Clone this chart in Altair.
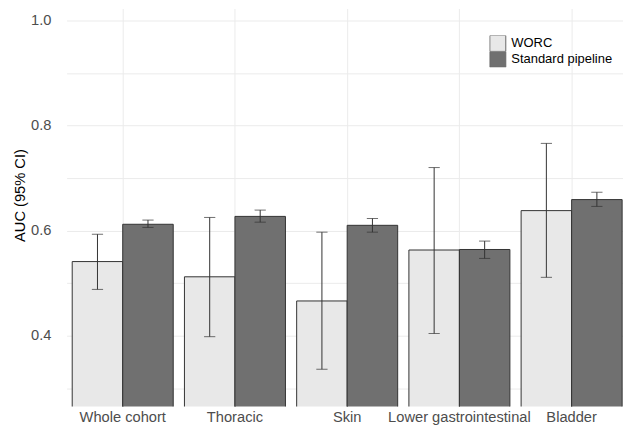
import altair as alt
import pandas as pd

categories = ["Whole cohort", "Thoracic", "Skin", "Lower gastrointestinal", "Bladder"]
methods = ["WORC", "Standard pipeline"]

worc_auc = [0.541, 0.512, 0.466, 0.563, 0.638]
worc_lo = [0.488, 0.398, 0.336, 0.404, 0.511]
worc_hi = [0.593, 0.625, 0.597, 0.720, 0.766]

std_auc = [0.612, 0.627, 0.610, 0.564, 0.659]
std_lo = [0.606, 0.616, 0.597, 0.547, 0.646]
std_hi = [0.620, 0.639, 0.623, 0.580, 0.673]

rows = []
for i, c in enumerate(categories):
    rows.append({"cat": c, "method": "WORC", "auc": worc_auc[i], "lo": worc_lo[i], "hi": worc_hi[i]})
    rows.append({"cat": c, "method": "Standard pipeline", "auc": std_auc[i], "lo": std_lo[i], "hi": std_hi[i]})
df = pd.DataFrame(rows)

FONT = "Liberation Sans"

xscale = alt.Scale(domain=categories, range=[11.75, 574.25], paddingInner=0.1, paddingOuter=0.05)
yscale = alt.Scale(domain=[0.265, 1.0228], nice=False, zero=False)
offscale = alt.Scale(domain=methods, paddingInner=0, paddingOuter=0)

x_enc = alt.X("cat:N", scale=xscale, sort=categories, title=None,
              axis=alt.Axis(labelAngle=0, ticks=False, domain=False, labelPadding=3,
                            labelFontSize=14.7, labelColor="#4D4D4D", labelFont=FONT,
                            grid=True, gridColor="#EBEBEB", gridWidth=1))
xoff = alt.XOffset("method:N", scale=offscale, sort=methods)

base = alt.Chart(df)

bars = base.mark_bar(stroke="#333333", strokeWidth=1, clip=True).encode(
    x=x_enc,
    xOffset=xoff,
    y=alt.Y("auc:Q", scale=yscale, title="AUC (95% CI)",
            axis=alt.Axis(values=[0.3, 0.4, 0.5, 0.6, 0.7, 0.8, 0.9, 1.0],
                          labelExpr="round(datum.value*10) % 2 == 0 ? format(datum.value, '.1f') : ''",
                          ticks=False, domain=False, labelPadding=4,
                          labelFontSize=14.7, labelColor="#4D4D4D", labelFont=FONT,
                          titleFontSize=14.7, titleFont=FONT, titleColor="#000000",
                          titleFontWeight="normal", titlePadding=3, titleY=187,
                          gridColor="#EBEBEB", gridWidth=1)),
    color=alt.Color("method:N", sort=methods,
                    scale=alt.Scale(domain=methods, range=["#E8E8E8", "#707070"]),
                    legend=alt.Legend(title=None, orient="none", legendX=435.5, legendY=27,
                                      symbolType="square", symbolSize=256,
                                      symbolStrokeColor="#666666", symbolStrokeWidth=1,
                                      labelFontSize=13, labelFont=FONT, labelColor="#000000",
                                      rowPadding=0, clipHeight=16, labelOffset=5, padding=0)),
)

rules = base.mark_rule(color="#333333", strokeWidth=1).encode(
    x=alt.X("cat:N", scale=xscale, sort=categories),
    xOffset=xoff,
    y=alt.Y("lo:Q", scale=yscale),
    y2="hi:Q",
)

caps_lo = base.mark_tick(color="#333333", thickness=1, size=11.25, orient="horizontal").encode(
    x=alt.X("cat:N", scale=xscale, sort=categories),
    xOffset=xoff,
    y=alt.Y("lo:Q", scale=yscale),
)
caps_hi = base.mark_tick(color="#333333", thickness=1, size=11.25, orient="horizontal").encode(
    x=alt.X("cat:N", scale=xscale, sort=categories),
    xOffset=xoff,
    y=alt.Y("hi:Q", scale=yscale),
)

chart = alt.layer(bars, rules, caps_lo, caps_hi).properties(
    width=569.5, height=399,
    padding={"left": 4, "top": 0, "right": 0, "bottom": 0},
).configure_view(stroke=None).configure_axis(labelFont=FONT, titleFont=FONT)

chart.save("out.html", embed_options={"renderer": "svg", "actions": False})
